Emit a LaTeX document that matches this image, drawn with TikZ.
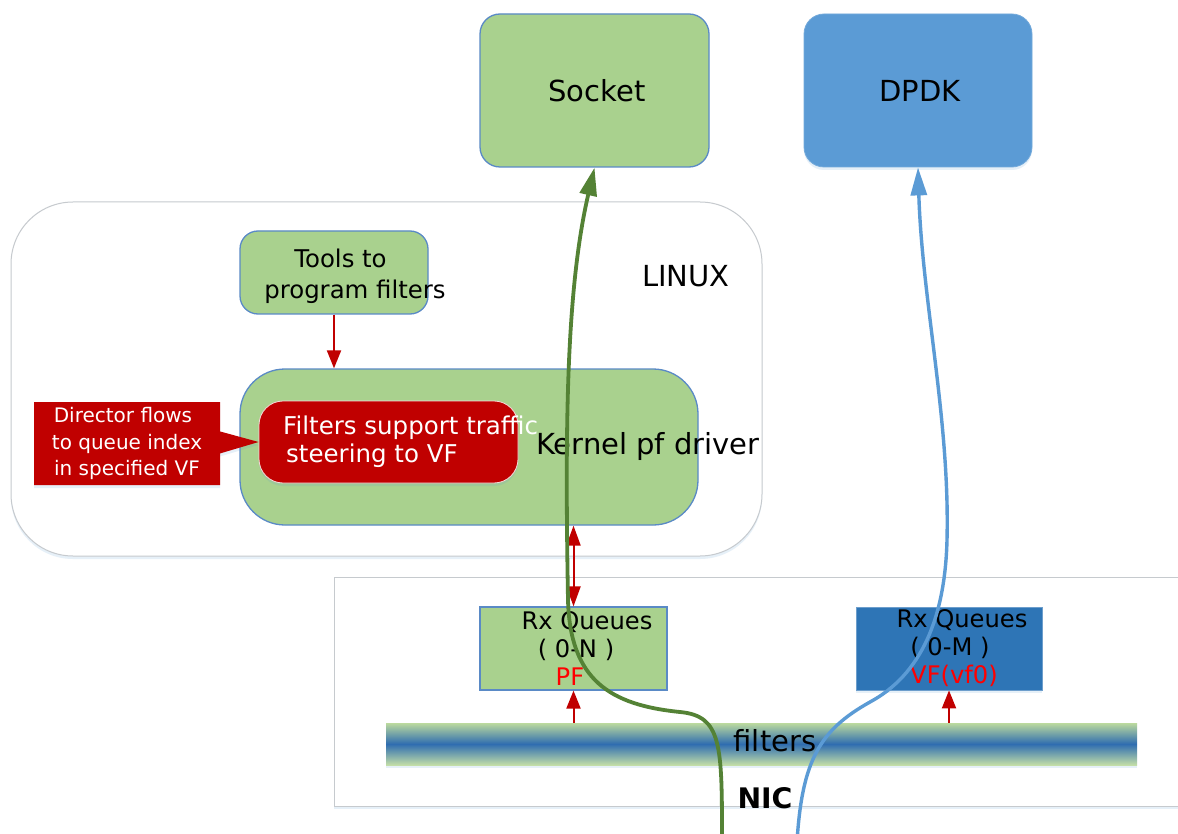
\documentclass[tikz,border=0pt]{standalone}
\usepackage{fontspec}
\setmainfont{DejaVu Sans}
\usetikzlibrary{arrows.meta,shapes.callouts,shadows}
\definecolor{boxgreen}{HTML}{A9D18E}
\definecolor{boxborder}{HTML}{5A8AC6}
\definecolor{dpdkblue}{HTML}{5B9BD5}
\definecolor{vfblue}{HTML}{2E75B6}
\definecolor{darkred}{HTML}{C00000}
\definecolor{curvegreen}{HTML}{548235}
\definecolor{framegray}{HTML}{C6CACE}
\definecolor{barblue}{HTML}{2F6DB0}
\definecolor{barlight}{HTML}{BCDA9E}
\tikzset{
  soft/.style={drop shadow={shadow xshift=0pt,shadow yshift=-3pt,opacity=.15,fill=dpdkblue}},
  gbox/.style={draw=boxborder,line width=1.3pt,fill=boxgreen,inner sep=0pt},
  container/.style={draw=framegray,line width=1pt,fill=white,inner sep=0pt},
  big/.style={font=\fontsize{29}{35}\selectfont},
  redarrow/.style={draw=darkred,line width=2pt,-{Triangle[length=18pt,width=14pt]}},
  reddouble/.style={draw=darkred,line width=2pt,{Triangle[length=20pt,width=14pt]}-{Triangle[length=20pt,width=14pt]}},
  greencurve/.style={draw=curvegreen,line width=3.8pt,-{Triangle[length=28pt,width=17pt]}},
  bluecurve/.style={draw=dpdkblue,line width=3.4pt,-{Triangle[length=28pt,width=16pt]}},
}
\begin{document}
\begin{tikzpicture}[x=1pt,y=-1pt]
\useasboundingbox (0,0) rectangle (1178,834);
\fill[white] (0,0) rectangle (1178,834);

% containers
\node[container,soft,minimum width=856pt,minimum height=229pt] (nic) at (762,691.5) {};
\node[font=\fontsize{28.3}{34}\selectfont\bfseries] (niclabel) at (765,798) {NIC};
\node[container,soft,rounded corners=62pt,minimum width=751pt,minimum height=354pt] (linux) at (386.5,379) {};
\node[big] (linuxlabel) at (686,276) {LINUX};

% top boxes
\node[gbox,rounded corners=20pt,minimum width=229pt,minimum height=153pt,big] (socket) at (594.5,90.5) {\hspace*{5pt}Socket};
\node[fill=dpdkblue,draw=dpdkblue!85!white,line width=0.8pt,soft,rounded corners=20pt,minimum width=228pt,minimum height=153pt,inner sep=0pt,big] (dpdk) at (918,90.5) {\hspace*{4pt}DPDK};

% linux internals
\node[gbox,rounded corners=18pt,minimum width=188pt,minimum height=83pt] (tools) at (334,272.5) {};
\node[align=center,font=\fontsize{24.4}{31}\selectfont] (toolstext) at (355,276) {Tools to\hspace*{29pt}\\program filters};
\node[gbox,rounded corners=45pt,minimum width=458pt,minimum height=156pt] (kernel) at (469,447) {};
\node[big] (kerneltext) at (648,446) {Kernel pf driver};
\node[fill=darkred,draw=white!85!darkred,line width=0.8pt,soft,rounded corners=24pt,minimum width=259pt,minimum height=82pt,inner sep=0pt] (filt) at (388.5,442) {};
\node[anchor=west,align=left,text=white,font=\fontsize{24.5}{28}\selectfont,inner sep=0pt] (filttext) at (283,442) {Filters support traffic\\\hspace*{3pt}steering to VF};
\node[rectangle callout,fill=darkred,soft,callout absolute pointer={(filt.west)},callout pointer width=22pt,minimum width=186pt,minimum height=83pt,inner sep=0pt,text=white,align=center,font=\fontsize{20}{26.5}\selectfont] (director) at (127,443.5) {\hspace*{-8pt}Director flows\\to queue index\\in specified VF};

% NIC internals
\node[gbox,line width=1.2pt,minimum width=187pt,minimum height=83pt,align=center,font=\fontsize{24.2}{28}\selectfont] (pf) at (573.5,648.5) {\hspace*{27pt}Rx Queues\\\hspace*{5pt}( 0-N )\\{\color{red}PF}\hspace*{7pt}};
\node[fill=vfblue,draw=vfblue!70!white,line width=0.8pt,soft,inner sep=0pt,minimum width=186pt,minimum height=83pt,align=center,font=\fontsize{24.2}{28}\selectfont] (vf) at (949,648.5) {\hspace*{26pt}Rx Queues\\\hspace*{2pt}( 0-M )\\\hspace*{10pt}{\color{red}VF(vf0)}};
\node[soft,top color=barlight,bottom color=barlight!90!white,middle color=barblue,minimum width=751pt,minimum height=42pt,inner sep=0pt] (filters) at (761.5,744) {};
\node[big] (filterstext) at (775,741) {filters};

% red arrows
\draw[redarrow] (tools.south) -- (tools.south |- kernel.north);
\draw[reddouble] (pf.north |- kernel.south) -- (pf.north);
\draw[redarrow] (filters.north -| pf.south) -- (pf.south);
\draw[redarrow] (filters.north -| vf.south) -- (vf.south);

% data paths
\coordinate (greenstart) at (722,842);
\coordinate (bluestart) at (797,842);
\draw[greencurve] (greenstart) .. controls (722,745) and (722,716) .. (680,712)
  .. controls (610,705) and (570,680) .. (568,600)
  .. controls (565,430) and (566,290) .. (socket.south);
\draw[bluecurve] (bluestart) .. controls (802,760) and (820,730) .. (870,702)
  .. controls (920,675) and (945,620) .. (947,540)
  .. controls (950,420) and (922,300) .. (dpdk.south);
\end{tikzpicture}
\end{document}
